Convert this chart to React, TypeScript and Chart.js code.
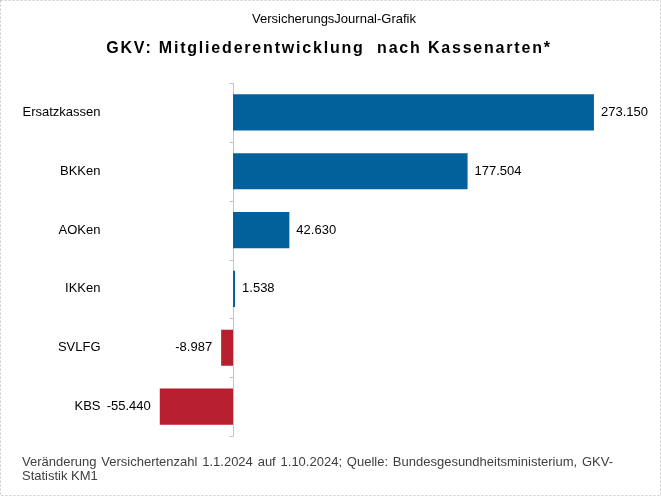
import React, { useEffect, useRef } from "react";
import { Chart, registerables } from "chart.js";

Chart.register(...registerables);

const categories = ["Ersatzkassen", "BKKen", "AOKen", "IKKen", "SVLFG", "KBS"];
const memberChange = [273150, 177504, 42630, 1538, -8987, -55440];
const subtitleText = "VersicherungsJournal-Grafik";
const titleText = "GKV: Mitgliederentwicklung  nach Kassenarten*";
const footnoteLines = [
  "Veränderung  Versichertenzahl 1.1.2024 auf 1.10.2024; Quelle: Bundesgesundheitsministerium,  GKV-",
  "Statistik KM1",
];

const BLUE = "#02609b";
const RED = "#b71f2e";
const FONT = "'Liberation Sans', Arial, sans-serif";

function fmt(v: number): string {
  const s = Math.abs(v).toString().replace(/\B(?=(\d{3})+(?!\d))/g, ".");
  return (v < 0 ? "-" : "") + s;
}

const decorPlugin = {
  id: "decor",
  beforeDatasetsDraw(chart: any) {
    const { ctx, chartArea } = chart;
    const x0 = Math.round(chart.scales.x.getPixelForValue(0)) + 0.5;
    ctx.save();
    ctx.strokeStyle = "#c4c4c4";
    ctx.lineWidth = 1;
    ctx.beginPath();
    ctx.moveTo(x0, chartArea.top);
    ctx.lineTo(x0, chartArea.bottom);
    const n = categories.length;
    const h = (chartArea.bottom - chartArea.top) / n;
    for (let i = 0; i <= n; i++) {
      const y = Math.round(chartArea.top + i * h) + 0.5;
      ctx.moveTo(x0 - 4, y);
      ctx.lineTo(x0, y);
    }
    ctx.stroke();
    ctx.restore();
  },
  afterDatasetsDraw(chart: any) {
    const { ctx } = chart;
    const meta = chart.getDatasetMeta(0);
    ctx.save();
    ctx.font = `13px ${FONT}`;
    ctx.fillStyle = "#000";
    ctx.textBaseline = "middle";
    meta.data.forEach((bar: any, i: number) => {
      const v = memberChange[i];
      if (v >= 0) {
        ctx.textAlign = "left";
        ctx.fillText(fmt(v), bar.x + 7, bar.y);
      } else {
        ctx.textAlign = "right";
        ctx.fillText(fmt(v), bar.x - 9, bar.y);
      }
    });
    ctx.restore();
  },
  afterDraw(chart: any) {
    const { ctx, width, height } = chart;
    ctx.save();
    // border
    ctx.strokeStyle = "#c8c8c8";
    ctx.lineWidth = 1;
    ctx.setLineDash([2, 2]);
    ctx.strokeRect(0.5, 0.5, width - 1, height - 1);
    ctx.setLineDash([]);
    // subtitle
    ctx.fillStyle = "#000";
    ctx.textAlign = "center";
    ctx.textBaseline = "alphabetic";
    ctx.font = `13px ${FONT}`;
    ctx.fillText(subtitleText, 334, 23);
    // title
    ctx.font = `bold 16px ${FONT}`;
    (ctx as any).letterSpacing = "1.8px";
    ctx.fillText(titleText, 329, 52.5);
    (ctx as any).letterSpacing = "0px";
    // footnote
    ctx.font = `13px ${FONT}`;
    ctx.fillStyle = "#404040";
    ctx.textAlign = "left";
    const left = 22;
    const right = 613;
    const words = footnoteLines[0].split(/\s+/);
    const widths = words.map((w) => ctx.measureText(w).width);
    const total = widths.reduce((a, b) => a + b, 0);
    const gap = (right - left - total) / (words.length - 1);
    let x = left;
    words.forEach((w, i) => {
      ctx.fillText(w, x, 466);
      x += widths[i] + gap;
    });
    ctx.fillText(footnoteLines[1], left, 480);
    ctx.restore();
  },
};

export default function App() {
  const ref = useRef<HTMLCanvasElement | null>(null);
  useEffect(() => {
    document.body.style.margin = "0";
    if (!ref.current) return;
    const chart = new Chart(ref.current, {
      type: "bar",
      data: {
        labels: categories,
        datasets: [
          {
            data: memberChange,
            backgroundColor: memberChange.map((v) => (v >= 0 ? BLUE : RED)),
            borderWidth: 0,
            categoryPercentage: 1,
            barPercentage: 0.615,
          },
        ],
      },
      options: {
        indexAxis: "y",
        responsive: false,
        animation: false,
        devicePixelRatio: 1,
        layout: { padding: { left: 22, right: 58, top: 83, bottom: 60 } },
        plugins: {
          legend: { display: false },
          title: { display: false },
          tooltip: { enabled: false },
        },
        scales: {
          x: {
            display: false,
            min: -95000,
            max: 280000,
          },
          y: {
            grid: { display: false, drawTicks: false },
            border: { display: false },
            ticks: {
              color: "#000",
              font: { family: FONT, size: 13 },
              padding: 7,
            },
            afterFit(scale: any) {
              scale.width = 85.5;
            },
          },
        },
      },
      plugins: [decorPlugin],
    });
    return () => chart.destroy();
  }, []);
  return (
    <div style={{ width: 661, height: 496, background: "#fff" }}>
      <canvas ref={ref} width={661} height={496} />
    </div>
  );
}
